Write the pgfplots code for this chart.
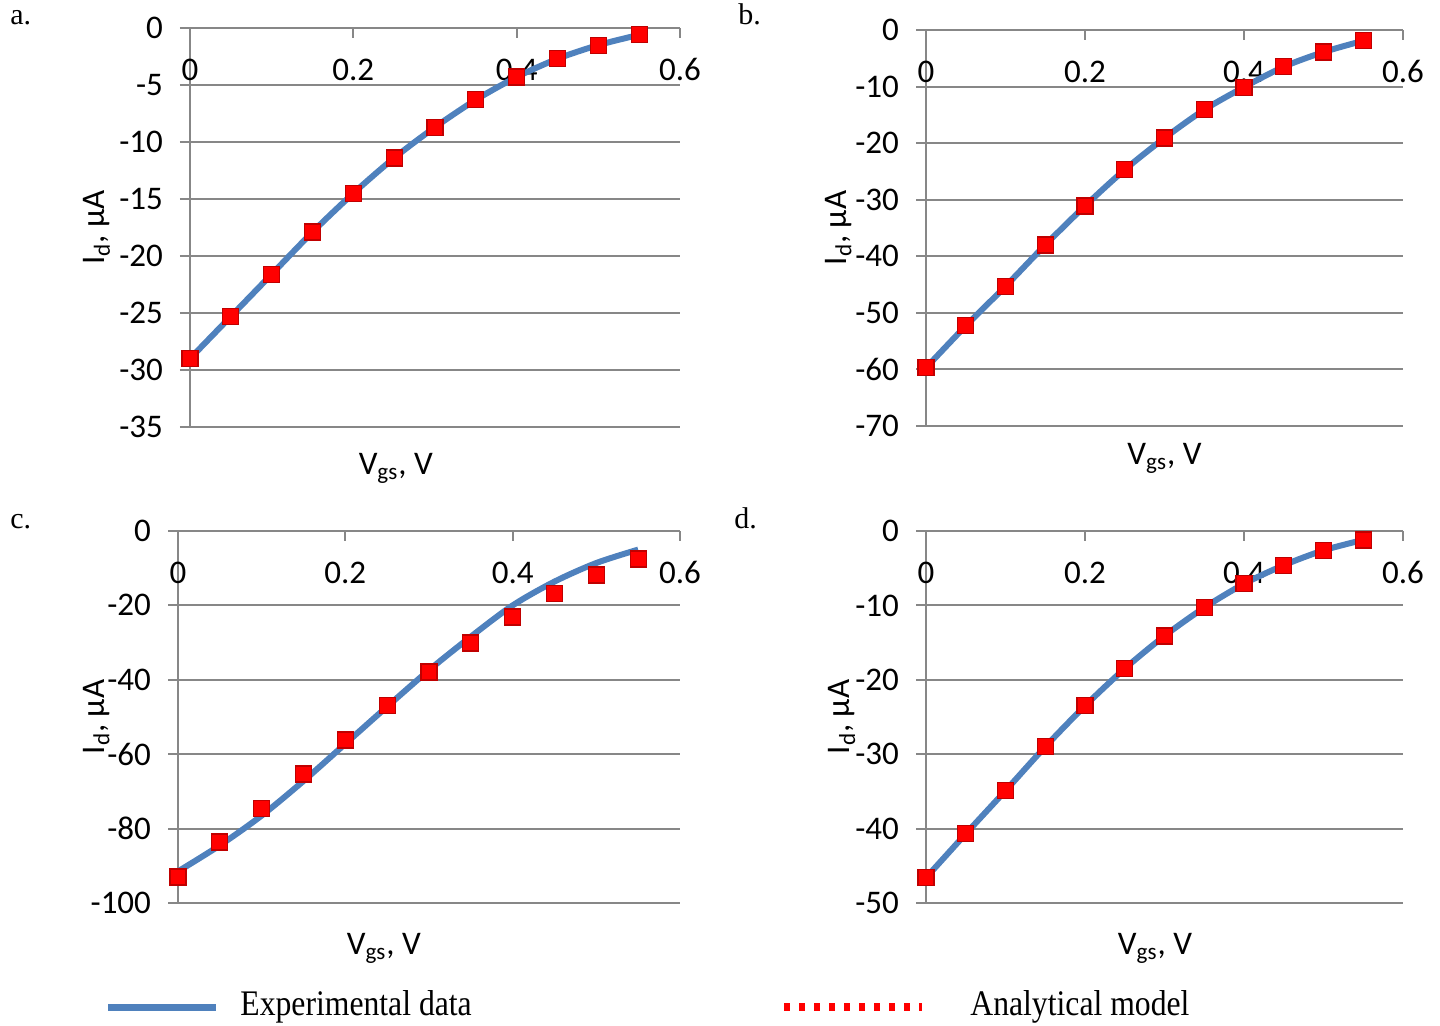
\documentclass[border=0pt]{standalone}
\usepackage{pgfplots}
\pgfplotsset{compat=1.18}
\usepackage{fontspec}
\usepackage{graphicx}
\setmainfont{Carlito}
\newfontfamily\timesf{Liberation Serif}
\definecolor{expblue}{HTML}{4F81BD}
\definecolor{axgray}{HTML}{878787}
\definecolor{mkred}{HTML}{FF0000}
\definecolor{mkedge}{HTML}{C00000}

\pgfplotstableread{
x y
0.00 -29.0
0.05 -25.3
0.10 -21.6
0.15 -17.9
0.20 -14.5
0.25 -11.4
0.30 -8.7
0.35 -6.3
0.40 -4.3
0.45 -2.7
0.50 -1.5
0.55 -0.6
}\expA
\pgfplotstableread{
x y
0.00 -29.0
0.05 -25.3
0.10 -21.6
0.15 -17.9
0.20 -14.5
0.25 -11.4
0.30 -8.7
0.35 -6.3
0.40 -4.3
0.45 -2.7
0.50 -1.5
0.55 -0.6
}\modA
\pgfplotstableread{
x y
0.00 -59.7
0.05 -52.3
0.10 -45.3
0.15 -38.0
0.20 -31.1
0.25 -24.7
0.30 -19.1
0.35 -14.1
0.40 -10.1
0.45 -6.5
0.50 -3.9
0.55 -1.9
}\expB
\pgfplotstableread{
x y
0.00 -59.7
0.05 -52.3
0.10 -45.3
0.15 -38.0
0.20 -31.1
0.25 -24.7
0.30 -19.1
0.35 -14.1
0.40 -10.1
0.45 -6.5
0.50 -3.9
0.55 -1.9
}\modB
\pgfplotstableread{
x y
0.00 -91.5
0.05 -84.5
0.10 -76.5
0.15 -67.2
0.20 -57.2
0.25 -47.2
0.30 -37.4
0.35 -28.4
0.40 -20.0
0.45 -13.6
0.50 -8.6
0.55 -5.0
}\expC
\pgfplotstableread{
x y
0.00 -93.0
0.05 -83.6
0.10 -74.5
0.15 -65.3
0.20 -56.2
0.25 -46.8
0.30 -37.9
0.35 -30.1
0.40 -23.1
0.45 -16.9
0.50 -11.8
0.55 -7.5
}\modC
\pgfplotstableread{
x y
0.00 -46.6
0.05 -40.7
0.10 -34.9
0.15 -29.0
0.20 -23.5
0.25 -18.5
0.30 -14.1
0.35 -10.3
0.40 -7.1
0.45 -4.6
0.50 -2.6
0.55 -1.2
}\expD
\pgfplotstableread{
x y
0.00 -46.6
0.05 -40.7
0.10 -34.9
0.15 -29.0
0.20 -23.5
0.25 -18.5
0.30 -14.1
0.35 -10.3
0.40 -7.1
0.45 -4.6
0.50 -2.6
0.55 -1.2
}\modD

\pgfplotsset{
  panel/.style={
    scale only axis,
    anchor=south west,
    xmin=0, xmax=0.6, ymax=0,
    xtick={0,0.2,0.4,0.6},
    axis x line=top,
    axis y line=left,
    axis line style={draw=axgray, line width=1pt, -},
    every outer x axis line/.append style={-},
    every outer y axis line/.append style={-},
    ymajorgrids,
    grid style={draw=axgray, line width=1pt},
    tick style={draw=axgray, line width=1pt},
    tick align=outside,
    major tick length=5pt,
    xtick style={yshift=-5pt},
    ticklabel style={font=\fontsize{16.5}{18}\selectfont, text=black},
    /pgf/number format/assume math mode=true,
    xticklabel style={anchor=base, yshift=-31pt},
    yticklabel style={/pgf/number format/fixed, xshift=-5pt},
    label style={font=\fontsize{16.5}{18}\selectfont},
    xlabel={V\textsubscript{gs}, V},
    ylabel={I\textsubscript{d}, μA},
    clip=false,
  },
  expline/.style={color=expblue, line width=3pt, smooth, no markers},
  modmark/.style={only marks, mark=square*, mark size=4pt,
    mark options={fill=mkred, draw=mkedge, line width=0.6pt}},
}

\begin{document}
\begin{tikzpicture}
\path[use as bounding box] (0,0) rectangle (720pt,512.5pt);

% panel a
\begin{axis}[panel, at={(95pt,299pt)}, width=245pt, height=199.5pt,
  ymin=-35, ytick distance=5,
  xlabel style={at={(axis description cs:0.42,0)}, anchor=base, yshift=-23.5pt},
  ylabel style={at={(axis description cs:-0.19,0.5)}, anchor=center}]
\addplot[expline] table {\expA};
\addplot[modmark] table {\modA};
\end{axis}

% panel b
\begin{axis}[panel, at={(463pt,299.5pt)}, width=238.5pt, height=198pt,
  ymin=-70, ytick distance=10,
  xlabel style={at={(axis description cs:0.50,0)}, anchor=base, yshift=-19pt},
  ylabel style={at={(axis description cs:-0.184,0.5)}, anchor=center}]
\addplot[expline] table {\expB};
\addplot[modmark] table {\modB};
\end{axis}

% panel c
\begin{axis}[panel, at={(89pt,61pt)}, width=251pt, height=186pt,
  ymin=-100, ytick distance=20,
  xlabel style={at={(axis description cs:0.41,0)}, anchor=base, yshift=-25.5pt},
  ylabel style={at={(axis description cs:-0.163,0.5)}, anchor=center}]
\addplot[expline] table {\expC};
\addplot[modmark] table {\modC};
\end{axis}

% panel d
\begin{axis}[panel, at={(463pt,61pt)}, width=238.5pt, height=186pt,
  ymin=-50, ytick distance=10,
  xlabel style={at={(axis description cs:0.48,0)}, anchor=base, yshift=-25.5pt},
  ylabel style={at={(axis description cs:-0.176,0.5)}, anchor=center}]
\addplot[expline] table {\expD};
\addplot[modmark] table {\modD};
\end{axis}

% panel letters
\node[anchor=base west, inner sep=0pt, font=\timesf\fontsize{15}{17}\selectfont] at (5pt,500pt) {a.};
\node[anchor=base west, inner sep=0pt, font=\timesf\fontsize{15}{17}\selectfont] at (369pt,500pt) {b.};
\node[anchor=base west, inner sep=0pt, font=\timesf\fontsize{15}{17}\selectfont] at (5pt,248.5pt) {c.};
\node[anchor=base west, inner sep=0pt, font=\timesf\fontsize{15}{17}\selectfont] at (367pt,248.5pt) {d.};

% legend
\draw[expblue, line width=3.5pt] (54pt,9pt) -- (108pt,9pt);
\node[anchor=base west, inner sep=0pt, font=\timesf\fontsize{18}{20}\selectfont] at (120pt,5pt) {\scalebox{0.88}[1]{Experimental data}};
\draw[mkred, line width=4pt, dash pattern=on 3pt off 4.5pt] (392pt,9pt) -- (461pt,9pt);
\node[anchor=base west, inner sep=0pt, font=\timesf\fontsize{18}{20}\selectfont] at (485pt,5pt) {\scalebox{0.88}[1]{Analytical model}};
\end{tikzpicture}
\end{document}
